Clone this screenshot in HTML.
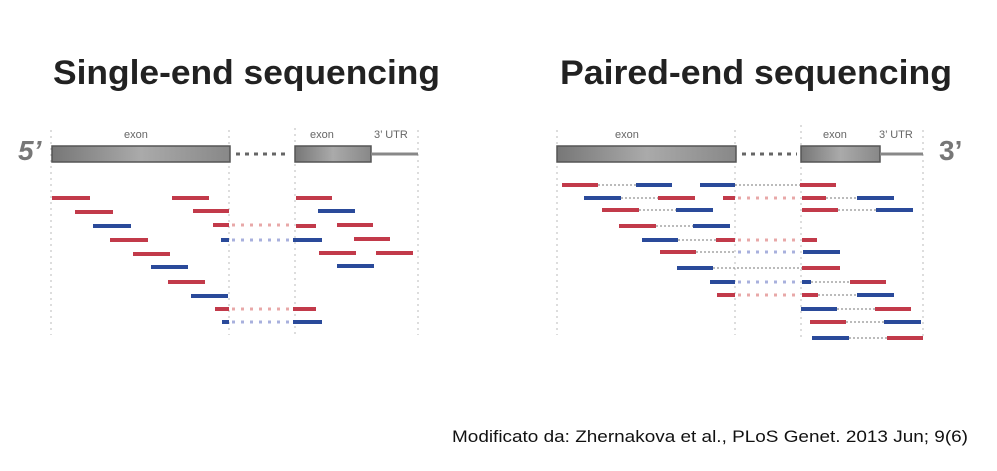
<!DOCTYPE html>
<html><head><meta charset="utf-8"><style>
body{margin:0;background:#fff;width:997px;height:466px;overflow:hidden}
</style></head><body>
<svg width="997" height="466" xmlns="http://www.w3.org/2000/svg" font-family="Liberation Sans, sans-serif">
<defs>
<linearGradient id="g" x1="0" x2="1"><stop offset="0" stop-color="#777"/><stop offset="0.5" stop-color="#aaa"/><stop offset="1" stop-color="#888"/></linearGradient>
</defs>
<text x="53" y="84" font-size="34" font-weight="bold" fill="#222" textLength="387" lengthAdjust="spacingAndGlyphs">Single-end sequencing</text>
<text x="560" y="84" font-size="34" font-weight="bold" fill="#222" textLength="392" lengthAdjust="spacingAndGlyphs">Paired-end sequencing</text>
<text x="452" y="442" font-size="17" fill="#111" textLength="516" lengthAdjust="spacingAndGlyphs">Modificato da: Zhernakova et al., PLoS Genet. 2013 Jun; 9(6)</text>

<g stroke="#bbb" stroke-width="1" stroke-dasharray="2,4">
<line x1="51" y1="130" x2="51" y2="335"/><line x1="229" y1="130" x2="229" y2="335"/><line x1="295" y1="128" x2="295" y2="335"/><line x1="418" y1="130" x2="418" y2="335"/>
<line x1="557" y1="130" x2="557" y2="335"/><line x1="735" y1="130" x2="735" y2="335"/><line x1="801" y1="125" x2="801" y2="340"/><line x1="923" y1="130" x2="923" y2="340"/>
</g>
<g font-size="11" fill="#666">
<text x="124" y="138">exon</text><text x="310" y="138">exon</text><text x="374" y="138">3’ UTR</text>
<text x="615" y="138">exon</text><text x="823" y="138">exon</text><text x="879" y="138">3’ UTR</text>
</g>
<text x="18" y="160" font-size="28" font-weight="bold" font-style="italic" fill="#777">5’</text>
<text x="939" y="160" font-size="28" font-weight="bold" fill="#777">3’</text>

<g stroke="#555" stroke-width="1.5" fill="url(#g)">
<rect x="52" y="146" width="178" height="16"/><rect x="295" y="146" width="76" height="16"/>
<rect x="557" y="146" width="179" height="16"/><rect x="801" y="146" width="79" height="16"/>
</g>
<g stroke="#888" stroke-width="3">
<line x1="371" y1="154" x2="418" y2="154"/><line x1="880" y1="154" x2="923" y2="154"/>
</g>
<g stroke="#666" stroke-width="3" stroke-dasharray="4,5">
<line x1="236" y1="154" x2="290" y2="154"/><line x1="742" y1="154" x2="797" y2="154"/>
</g>

<g stroke-width="3" stroke-dasharray="3,6">
<line x1="232" y1="225" x2="292" y2="225" stroke="#e8a8a8"/>
<line x1="232" y1="240" x2="292" y2="240" stroke="#a8b0dd"/>
<line x1="232" y1="309" x2="292" y2="309" stroke="#e8a8a8"/>
<line x1="232" y1="322" x2="292" y2="322" stroke="#a8b0dd"/>
<line x1="738" y1="198" x2="800" y2="198" stroke="#e8a8a8"/>
<line x1="738" y1="240" x2="800" y2="240" stroke="#e8a8a8"/>
<line x1="738" y1="252" x2="800" y2="252" stroke="#a8b0dd"/>
<line x1="738" y1="282" x2="800" y2="282" stroke="#a8b0dd"/>
<line x1="738" y1="295" x2="800" y2="295" stroke="#e8a8a8"/>
</g>
<g stroke="#777" stroke-width="1" stroke-dasharray="2,2">
<line x1="598" y1="185" x2="636" y2="185"/><line x1="735" y1="185" x2="800" y2="185"/>
<line x1="621" y1="198" x2="658" y2="198"/><line x1="826" y1="198" x2="857" y2="198"/>
<line x1="639" y1="210" x2="676" y2="210"/><line x1="838" y1="210" x2="876" y2="210"/>
<line x1="656" y1="226" x2="693" y2="226"/>
<line x1="678" y1="240" x2="716" y2="240"/>
<line x1="696" y1="252" x2="735" y2="252"/>
<line x1="713" y1="268" x2="802" y2="268"/>
<line x1="811" y1="282" x2="850" y2="282"/>
<line x1="818" y1="295" x2="857" y2="295"/>
<line x1="837" y1="309" x2="875" y2="309"/>
<line x1="846" y1="322" x2="884" y2="322"/>
<line x1="849" y1="338" x2="887" y2="338"/>
</g>

<g stroke-width="4">
<g stroke="#c23a4a">
<line x1="52" y1="198" x2="90" y2="198"/><line x1="75" y1="212" x2="113" y2="212"/>
<line x1="110" y1="240" x2="148" y2="240"/><line x1="133" y1="254" x2="170" y2="254"/>
<line x1="168" y1="282" x2="205" y2="282"/><line x1="215" y1="309" x2="229" y2="309"/>
<line x1="293" y1="309" x2="316" y2="309"/>
<line x1="172" y1="198" x2="209" y2="198"/><line x1="193" y1="211" x2="229" y2="211"/>
<line x1="213" y1="225" x2="229" y2="225"/><line x1="296" y1="226" x2="316" y2="226"/>
<line x1="296" y1="198" x2="332" y2="198"/><line x1="337" y1="225" x2="373" y2="225"/>
<line x1="354" y1="239" x2="390" y2="239"/><line x1="319" y1="253" x2="356" y2="253"/>
<line x1="376" y1="253" x2="413" y2="253"/>
<line x1="562" y1="185" x2="598" y2="185"/><line x1="800" y1="185" x2="836" y2="185"/>
<line x1="658" y1="198" x2="695" y2="198"/><line x1="723" y1="198" x2="735" y2="198"/><line x1="802" y1="198" x2="826" y2="198"/>
<line x1="602" y1="210" x2="639" y2="210"/><line x1="802" y1="210" x2="838" y2="210"/>
<line x1="619" y1="226" x2="656" y2="226"/>
<line x1="716" y1="240" x2="735" y2="240"/><line x1="802" y1="240" x2="817" y2="240"/>
<line x1="660" y1="252" x2="696" y2="252"/>
<line x1="802" y1="268" x2="840" y2="268"/>
<line x1="850" y1="282" x2="886" y2="282"/>
<line x1="717" y1="295" x2="735" y2="295"/><line x1="802" y1="295" x2="818" y2="295"/>
<line x1="875" y1="309" x2="911" y2="309"/>
<line x1="810" y1="322" x2="846" y2="322"/>
<line x1="887" y1="338" x2="923" y2="338"/>
</g>
<g stroke="#2a4a9a">
<line x1="93" y1="226" x2="131" y2="226"/><line x1="151" y1="267" x2="188" y2="267"/>
<line x1="191" y1="296" x2="228" y2="296"/><line x1="222" y1="322" x2="229" y2="322"/>
<line x1="293" y1="322" x2="322" y2="322"/><line x1="221" y1="240" x2="229" y2="240"/>
<line x1="293" y1="240" x2="322" y2="240"/><line x1="318" y1="211" x2="355" y2="211"/>
<line x1="337" y1="266" x2="374" y2="266"/>
<line x1="636" y1="185" x2="672" y2="185"/><line x1="700" y1="185" x2="735" y2="185"/>
<line x1="584" y1="198" x2="621" y2="198"/><line x1="857" y1="198" x2="894" y2="198"/>
<line x1="676" y1="210" x2="713" y2="210"/><line x1="876" y1="210" x2="913" y2="210"/>
<line x1="693" y1="226" x2="730" y2="226"/>
<line x1="642" y1="240" x2="678" y2="240"/>
<line x1="803" y1="252" x2="840" y2="252"/>
<line x1="677" y1="268" x2="713" y2="268"/>
<line x1="710" y1="282" x2="735" y2="282"/><line x1="802" y1="282" x2="811" y2="282"/>
<line x1="857" y1="295" x2="894" y2="295"/>
<line x1="801" y1="309" x2="837" y2="309"/>
<line x1="884" y1="322" x2="921" y2="322"/>
<line x1="812" y1="338" x2="849" y2="338"/>
</g>
</g>
</svg>
</body></html>
